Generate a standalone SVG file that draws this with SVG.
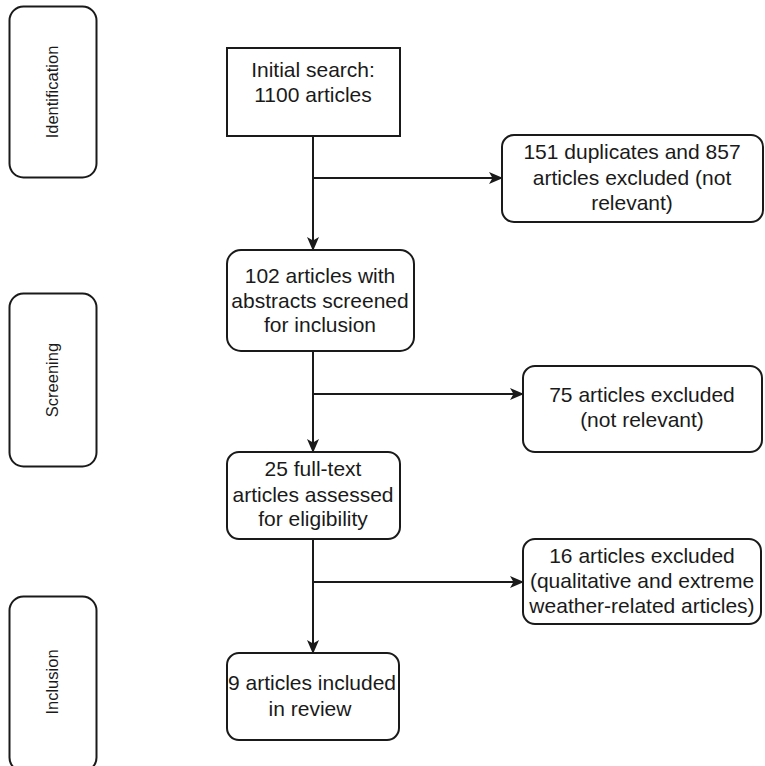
<svg xmlns="http://www.w3.org/2000/svg" width="765" height="766" viewBox="0 0 765 766">
  <style>
    .box { fill: #ffffff; stroke: #1a1a1a; stroke-width: 2; }
    .t { font-family: "Liberation Sans", Arial, sans-serif; font-size: 21px; fill: #1a1a1a; text-anchor: middle; }
    .lab { font-family: "Liberation Sans", Arial, sans-serif; font-size: 16.5px; fill: #1a1a1a; text-anchor: middle; }
    .conn { fill: none; stroke: #1a1a1a; stroke-width: 2; }
  </style>
  <defs>
    <marker id="arrow" viewBox="0 0 14 12" refX="13" refY="6" markerWidth="14" markerHeight="12" markerUnits="userSpaceOnUse" orient="auto">
      <path d="M0,0 L14,6 L0,12 L3.5,6 Z" fill="#1a1a1a"/>
    </marker>
  </defs>
  <rect width="765" height="766" fill="#ffffff"/>

  <g id="stage-identification">
    <rect class="box" x="9.5" y="6.5" width="87" height="171" rx="14"/>
    <text class="lab" transform="translate(58,92) rotate(-90)">Identification</text>
  </g>
  <g id="stage-screening">
    <rect class="box" x="9.5" y="293.5" width="87" height="173" rx="14"/>
    <text class="lab" transform="translate(58,380) rotate(-90)">Screening</text>
  </g>
  <g id="stage-inclusion">
    <rect class="box" x="9.5" y="596.5" width="87" height="175" rx="14"/>
    <text class="lab" transform="translate(58,682) rotate(-90)">Inclusion</text>
  </g>

  <g id="connectors">
    <line class="conn" x1="313" y1="136" x2="313" y2="250" marker-end="url(#arrow)"/>
    <line class="conn" x1="313" y1="178" x2="502" y2="178" marker-end="url(#arrow)"/>
    <line class="conn" x1="313" y1="351" x2="313" y2="452" marker-end="url(#arrow)"/>
    <line class="conn" x1="313" y1="394" x2="523" y2="394" marker-end="url(#arrow)"/>
    <line class="conn" x1="313" y1="539" x2="313" y2="653" marker-end="url(#arrow)"/>
    <line class="conn" x1="313" y1="582" x2="523" y2="582" marker-end="url(#arrow)"/>
  </g>

  <g id="initial-search">
    <rect class="box" x="227" y="48" width="173" height="88"/>
    <text class="t" x="313" y="77">Initial search:</text>
    <text class="t" x="313" y="102">1100 articles</text>
  </g>
  <g id="duplicates-excluded">
    <rect class="box" x="502" y="135" width="261" height="87" rx="12"/>
    <text class="t" x="632" y="159">151 duplicates and 857</text>
    <text class="t" x="632" y="185">articles excluded (not</text>
    <text class="t" x="632" y="210">relevant)</text>
  </g>
  <g id="abstracts-screened">
    <rect class="box" x="227" y="250" width="187" height="101" rx="14"/>
    <text class="t" x="320" y="283">102 articles with</text>
    <text class="t" x="320" y="308">abstracts screened</text>
    <text class="t" x="320" y="332">for inclusion</text>
  </g>
  <g id="excluded-75">
    <rect class="box" x="523" y="366" width="239" height="86" rx="12"/>
    <text class="t" x="642" y="402">75 articles excluded</text>
    <text class="t" x="642" y="427">(not relevant)</text>
  </g>
  <g id="full-text-assessed">
    <rect class="box" x="227" y="452" width="173" height="87" rx="12"/>
    <text class="t" x="313" y="476">25 full-text</text>
    <text class="t" x="313" y="502">articles assessed</text>
    <text class="t" x="313" y="526">for eligibility</text>
  </g>
  <g id="excluded-16">
    <rect class="box" x="523" y="539" width="238" height="85" rx="12"/>
    <text class="t" x="642" y="563">16 articles excluded</text>
    <text class="t" x="642" y="588">(qualitative and extreme</text>
    <text class="t" x="642" y="613">weather-related articles)</text>
  </g>
  <g id="included-in-review">
    <rect class="box" x="227" y="653" width="172" height="87" rx="12"/>
    <text class="t" x="312" y="690">9 articles included</text>
    <text class="t" x="310" y="716">in review</text>
  </g>
</svg>
